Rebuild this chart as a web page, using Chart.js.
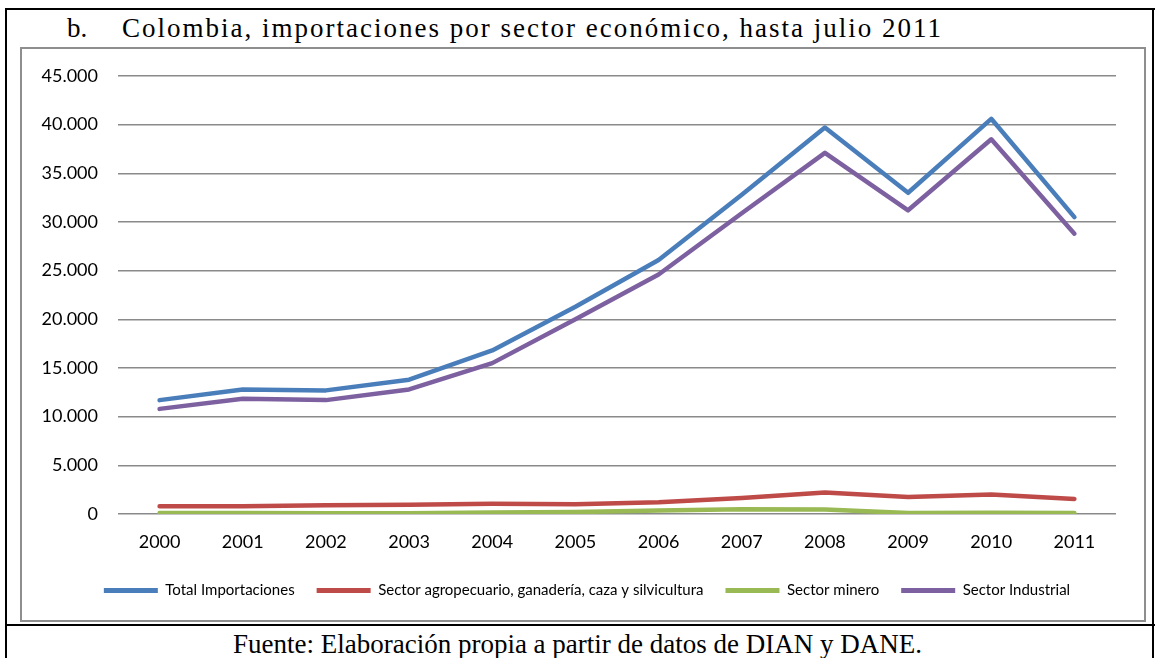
<!DOCTYPE html>
<html>
<head>
<meta charset="utf-8">
<script src="https://cdn.jsdelivr.net/npm/chart.js@4/dist/chart.umd.min.js"></script>
<style>
  html, body { margin:0; padding:0; background:#fff; }
  body { width:1155px; height:658px; position:relative; overflow:hidden; }
  .bl { position:absolute; background:#000; }
  .title { position:absolute; top:13px; font-family:"Liberation Serif","Times New Roman",serif; font-size:27px; color:#000; white-space:nowrap; line-height:30px; }
  .box { position:absolute; left:20px; top:47px; width:1126px; height:575px; border:2px solid #8e8e8e; box-sizing:border-box; }
  .wrap { position:absolute; left:22px; top:49px; width:1122px; height:571px; }
  .src { position:absolute; top:629px; left:0; width:1155px; text-align:center; font-family:"Liberation Serif","Times New Roman",serif; font-size:27px; line-height:30px; color:#000; }
</style>
</head>
<body>
<div class="bl" style="left:5px;top:8px;width:2px;height:650px"></div>
<div class="bl" style="left:5px;top:8px;width:1150px;height:2px"></div>
<div class="bl" style="left:1152px;top:8px;width:2px;height:650px"></div>
<div class="bl" style="left:5px;top:624px;width:1150px;height:2px"></div>
<div class="title" style="left:67px">b.</div>
<div class="title" style="left:122px;letter-spacing:2px">Colombia, importaciones por sector económico, hasta julio 2011</div>
<div class="box"></div>
<div class="wrap"><canvas id="c"></canvas></div>
<div class="src">Fuente: Elaboración propia a partir de datos de DIAN y DANE.</div>
<script>
const years = ['2000','2001','2002','2003','2004','2005','2006','2007','2008','2009','2010','2011'];
const totalImportaciones = [11700, 12800, 12700, 13800, 16800, 21300, 26100, 32800, 39700, 33000, 40600, 30500];
const sectorAgropecuario = [800, 800, 900, 950, 1050, 1000, 1200, 1650, 2200, 1750, 2000, 1550];
const sectorMinero = [90, 100, 80, 80, 150, 200, 350, 500, 450, 100, 120, 100];
const sectorIndustrial = [10800, 11850, 11700, 12800, 15500, 20000, 24600, 30900, 37100, 31200, 38500, 28800];
const seriesNames = ['Total Importaciones', 'Sector agropecuario, ganadería, caza y silvicultura', 'Sector minero', 'Sector Industrial'];
const seriesColors = ['#4A7EBB', '#BE4B48', '#98B954', '#7D60A0'];
const yMax = 45000, yStep = 5000;

const fmt = v => v === 0 ? '0' : Math.round(v).toLocaleString('de-DE');
const mk = (i, data, order) => ({
  label: seriesNames[i], data,
  borderColor: seriesColors[i], backgroundColor: seriesColors[i],
  borderWidth: 4.5, pointRadius: 0, pointHoverRadius: 0, tension: 0,
  borderJoinStyle: 'round', borderCapStyle: 'round', order
});

const legendTweak = {
  id: 'legendTweak',
  beforeInit(chart) {
    const orig = chart.legend.fit;
    chart.legend.fit = function () { orig.call(this); this.height = 59; };
  },
  afterLayout(chart) {
    chart.legend.left += 18;
    chart.legend.right += 18;
  }
};

new Chart(document.getElementById('c'), {
  type: 'line',
  data: {
    labels: years,
    datasets: [
      mk(0, totalImportaciones, 4),
      mk(1, sectorAgropecuario, 3),
      mk(2, sectorMinero, 2),
      mk(3, sectorIndustrial, 1)
    ]
  },
  plugins: [legendTweak],
  options: {
    responsive: true, maintainAspectRatio: false, animation: false,
    layout: { padding: { top: 27, right: 28, left: 0, bottom: 0 } },
    plugins: {
      tooltip: { enabled: false },
      legend: {
        position: 'bottom',
        labels: {
          font: { family: 'Lato', size: 15 },
          color: '#000',
          boxWidth: 54, boxHeight: 5,
          padding: 22,
          generateLabels: chart => chart.data.datasets.map((d, i) => ({
            text: d.label, fillStyle: d.borderColor, strokeStyle: d.borderColor,
            lineWidth: 0, datasetIndex: i, hidden: false
          }))
        }
      }
    },
    scales: {
      x: {
        offset: true,
        grid: { display: false, drawTicks: false },
        border: { display: false },
        ticks: { font: { family: 'Lato', size: 18 }, color: '#000', padding: 17, maxRotation: 0 },
        afterFit: s => { s.height = 47; }
      },
      y: {
        min: 0, max: yMax,
        grid: { color: '#8a8a8a', lineWidth: 1.5, drawTicks: false },
        border: { display: false },
        ticks: { stepSize: yStep, font: { family: 'Lato', size: 18 }, color: '#000', padding: 20, callback: v => fmt(v) },
        afterFit: s => { s.width = 96; s.paddingTop = 0; s.paddingBottom = 0; }
      }
    }
  }
});
</script>
</body>
</html>
